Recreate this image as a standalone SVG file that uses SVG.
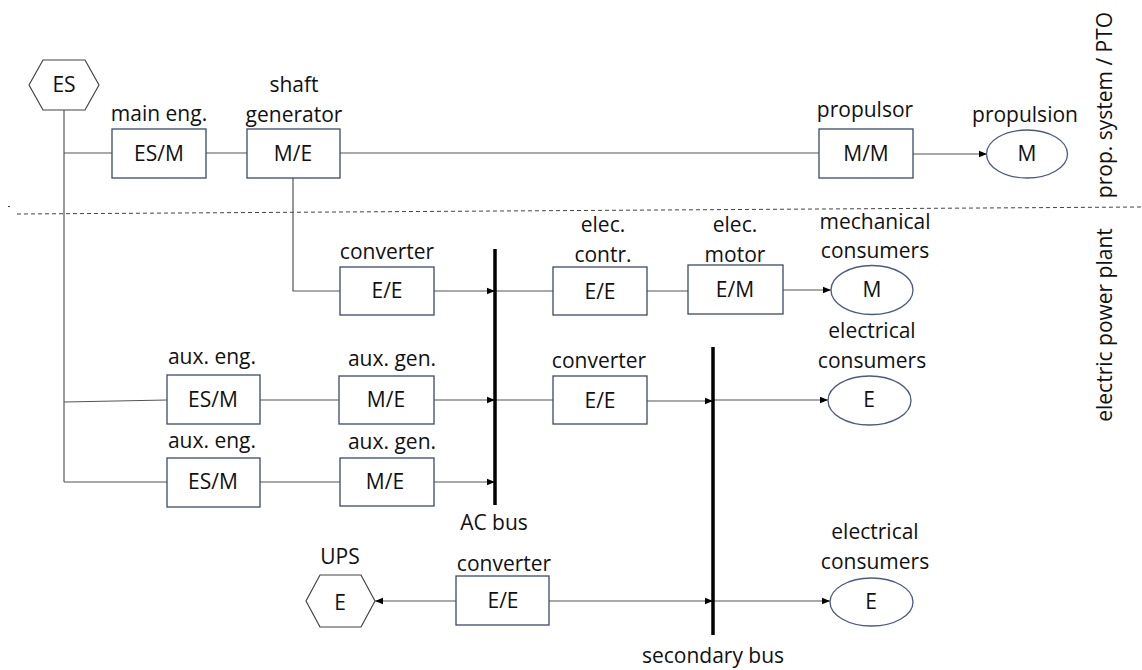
<svg xmlns="http://www.w3.org/2000/svg" width="1142" height="670" viewBox="0 0 1142 670">
<defs>
<marker id="arr" viewBox="0 0 10 10" refX="10" refY="5" markerWidth="8" markerHeight="8" markerUnits="userSpaceOnUse" orient="auto">
<path d="M0,1 L10,5 L0,9 z" fill="#000"/>
</marker>
<style>
text{font-family:"Open Sans","Liberation Sans",sans-serif;font-size:21px;fill:#111;text-anchor:middle}
.box{fill:#fff;stroke:#3b4a6b;stroke-width:1.3}
.ell{fill:#fff;stroke:#4a5a80;stroke-width:1.3}
.hex{fill:#fff;stroke:#444;stroke-width:1.2}
.c{fill:none;stroke:#555;stroke-width:1.2}
.a{fill:none;stroke:#555;stroke-width:1.2;marker-end:url(#arr)}
.bus{stroke:#000;stroke-width:3.5}
.dash{stroke:#444;stroke-width:1;stroke-dasharray:4 3}
</style>
</defs>
<rect width="1142" height="670" fill="#fff"/>

<g id="separator">
<line class="dash" x1="17" y1="214" x2="1142" y2="207"/>
<line x1="8" y1="206.5" x2="10" y2="206.5" stroke="#444" stroke-width="1"/>
<text transform="translate(1112,105) rotate(-90)">prop. system / PTO</text>
<text transform="translate(1112,325) rotate(-90)">electric power plant</text>
</g>

<g id="connectors">
<polyline class="c" points="64,110 64,482"/>
<line class="c" x1="64" y1="153" x2="112" y2="153"/>
<line class="c" x1="206" y1="153" x2="247" y2="153"/>
<line class="c" x1="340" y1="153" x2="819" y2="153"/>
<line class="a" x1="913" y1="154" x2="987" y2="154"/>
<polyline class="c" points="293,178 293,291 340,291"/>
<line class="a" x1="434" y1="291" x2="495" y2="291"/>
<line class="c" x1="495" y1="291" x2="553" y2="291"/>
<line class="c" x1="647" y1="291" x2="688" y2="291"/>
<line class="a" x1="783" y1="290" x2="831" y2="290"/>
<line class="c" x1="64" y1="402" x2="167" y2="400"/>
<line class="c" x1="260" y1="400" x2="339" y2="400"/>
<line class="a" x1="434" y1="400" x2="495" y2="400"/>
<line class="c" x1="495" y1="400" x2="553" y2="400"/>
<line class="a" x1="647" y1="401" x2="713" y2="401"/>
<line class="a" x1="713" y1="400" x2="828" y2="400"/>
<line class="c" x1="64" y1="482" x2="167" y2="482"/>
<line class="c" x1="260" y1="482" x2="340" y2="482"/>
<line class="a" x1="434" y1="482" x2="495" y2="482"/>
<line class="a" x1="456" y1="601" x2="375" y2="601"/>
<line class="a" x1="549" y1="601" x2="713" y2="601"/>
<line class="a" x1="713" y1="601" x2="830" y2="601"/>
</g>

<g id="ac-bus">
<line class="bus" x1="495" y1="249" x2="495" y2="505"/>
<text x="494" y="530">AC bus</text>
</g>
<g id="secondary-bus">
<line class="bus" x1="713" y1="347" x2="713" y2="635"/>
<text x="713" y="663">secondary bus</text>
</g>

<g id="es">
<polygon class="hex" points="29,85 43,60 85,60 99,85 85,110 43,110"/>
<text x="64" y="92">ES</text>
</g>

<g id="main-eng">
<text x="159" y="121">main eng.</text>
<rect class="box" x="112" y="129" width="94" height="49"/>
<text x="159" y="161">ES/M</text>
</g>

<g id="shaft-gen">
<text x="294" y="92">shaft</text>
<text x="294" y="122">generator</text>
<rect class="box" x="247" y="129" width="93" height="49"/>
<text x="293" y="161">M/E</text>
</g>

<g id="propulsor">
<text x="865" y="117">propulsor</text>
<rect class="box" x="819" y="129" width="94" height="49"/>
<text x="866" y="161">M/M</text>
</g>

<g id="propulsion">
<text x="1025" y="122">propulsion</text>
<ellipse class="ell" cx="1027" cy="154" rx="40.5" ry="24"/>
<text x="1027" y="161">M</text>
</g>

<g id="converter1">
<text x="387" y="259">converter</text>
<rect class="box" x="340" y="267" width="94" height="48"/>
<text x="387" y="298">E/E</text>
</g>

<g id="elec-contr">
<text x="603" y="232">elec.</text>
<text x="603" y="262">contr.</text>
<rect class="box" x="553" y="267" width="94" height="48"/>
<text x="600" y="299">E/E</text>
</g>

<g id="elec-motor">
<text x="735" y="232">elec.</text>
<text x="735" y="262">motor</text>
<rect class="box" x="688" y="265" width="95" height="49"/>
<text x="735" y="297">E/M</text>
</g>

<g id="mech-consumers">
<text x="875" y="229">mechanical</text>
<text x="875" y="258">consumers</text>
<ellipse class="ell" cx="872" cy="290" rx="41" ry="24.5"/>
<text x="872" y="297">M</text>
</g>

<g id="aux-eng1">
<text x="212" y="364">aux. eng.</text>
<rect class="box" x="167" y="375" width="93" height="49"/>
<text x="213" y="407">ES/M</text>
</g>

<g id="aux-gen1">
<text x="392" y="366">aux. gen.</text>
<rect class="box" x="339" y="376" width="95" height="48"/>
<text x="386" y="407">M/E</text>
</g>

<g id="converter2">
<text x="599" y="368">converter</text>
<rect class="box" x="553" y="376" width="94" height="48"/>
<text x="600" y="408">E/E</text>
</g>

<g id="elec-consumers1">
<text x="872" y="338">electrical</text>
<text x="872" y="368">consumers</text>
<ellipse class="ell" cx="869.5" cy="400.5" rx="41.5" ry="24.5"/>
<text x="869" y="407">E</text>
</g>

<g id="aux-eng2">
<text x="212" y="448">aux. eng.</text>
<rect class="box" x="167" y="458" width="93" height="49"/>
<text x="213" y="489">ES/M</text>
</g>

<g id="aux-gen2">
<text x="392" y="449">aux. gen.</text>
<rect class="box" x="340" y="458" width="94" height="48"/>
<text x="385" y="489">M/E</text>
</g>

<g id="ups">
<text x="340" y="564">UPS</text>
<polygon class="hex" points="306,601 320,575 361,575 375,601 361,627 320,627"/>
<text x="340" y="610">E</text>
</g>

<g id="converter3">
<text x="504" y="571">converter</text>
<rect class="box" x="456" y="576" width="93" height="49"/>
<text x="503" y="608">E/E</text>
</g>

<g id="elec-consumers2">
<text x="875" y="539">electrical</text>
<text x="875" y="569">consumers</text>
<ellipse class="ell" cx="871.5" cy="602" rx="41.5" ry="24"/>
<text x="871" y="609">E</text>
</g>
</svg>
